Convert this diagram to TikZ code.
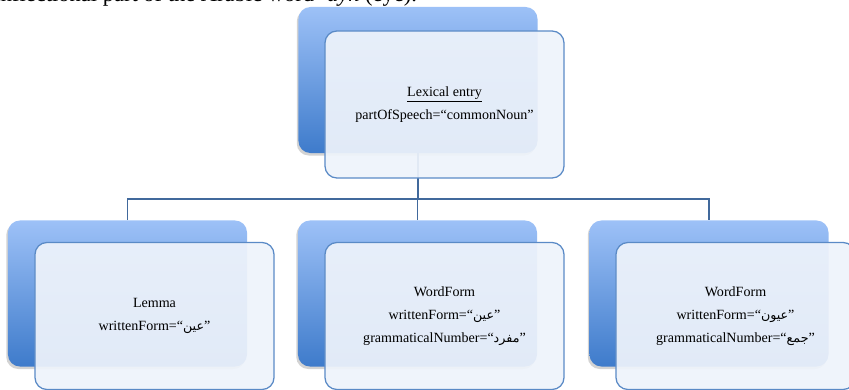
\documentclass[tikz,border=0pt]{standalone}
\usepackage{fontspec}
\setmainfont{Liberation Serif}
\newfontfamily\arabicfont[Script=Arabic]{DejaVu Sans}
\TeXXeTstate=1
\usetikzlibrary{shadows}
\definecolor{boxtop}{HTML}{9DC1F7}
\definecolor{boxbottom}{HTML}{3E7BCB}
\definecolor{boxline}{HTML}{5A8AC6}
\definecolor{boxfill}{HTML}{EEF3FB}
\definecolor{linkblue}{HTML}{41699C}
\newcommand{\artext}[1]{{\arabicfont\small\beginR#1\endR}}
\tikzset{
  backbox/.style={rounded corners=0.3cm, minimum width=5.975cm, minimum height=3.65cm,
                  inner sep=0pt, top color=boxtop, bottom color=boxbottom,
                  drop shadow={shadow xshift=-1.2pt, shadow yshift=-1.8pt, opacity=0.35}},
  frontbox/.style={rounded corners=0.3cm, minimum width=5.975cm, minimum height=3.675cm,
                   inner sep=0pt, draw=boxline, line width=0.9pt, fill=boxfill,
                   fill opacity=0.93, text opacity=1, align=center,
                   font=\fontsize{10}{16.3}\selectfont},
  link/.style={draw=linkblue, line width=1.1pt},
}
\begin{document}
\begin{tikzpicture}[x=0.025cm, y=-0.025cm]
    \useasboundingbox (0,0) rectangle (849,389);
    \clip (0,0) rectangle (849,389);
    \node[anchor=base east, font=\fontsize{16}{18}\selectfont] (caption) at (422,1.5)
        {inflectional part of the Arabic word \textit{‘ayn} (eye).};
    % back boxes
    \node[backbox] (lexback) at (418,80) {};
    \foreach \x/\nm in {127.5/lemmaback, 417.5/singback, 709/plurback}
        \node[backbox] (\nm) at (\x,293.5) {};
    % connectors
    \coordinate (bus) at (418,199);
    \draw[link] (lexback.south) -- (lexback.south |- bus);
    \draw[link] (lemmaback.north) |- (bus) -| (plurback.north);
    \draw[link] (singback.north) -- (singback.north |- bus);
    % front boxes
    \node[frontbox] (lex) at (444.5,104.5)
        {\underline{Lexical entry}\\partOfSpeech=“commonNoun”};
    \node[frontbox] (lemma) at (154.5,316)
        {Lemma\\writtenForm=“\artext{عين}”};
    \node[frontbox] (sing) at (444.5,316)
        {WordForm\\writtenForm=“\artext{عين}”\\grammaticalNumber=“\artext{مفرد}”};
    \node[frontbox] (plur) at (735.5,316)
        {WordForm\\writtenForm=“\artext{عيون}”\\grammaticalNumber=“\artext{جمع}”};
\end{tikzpicture}
\end{document}
